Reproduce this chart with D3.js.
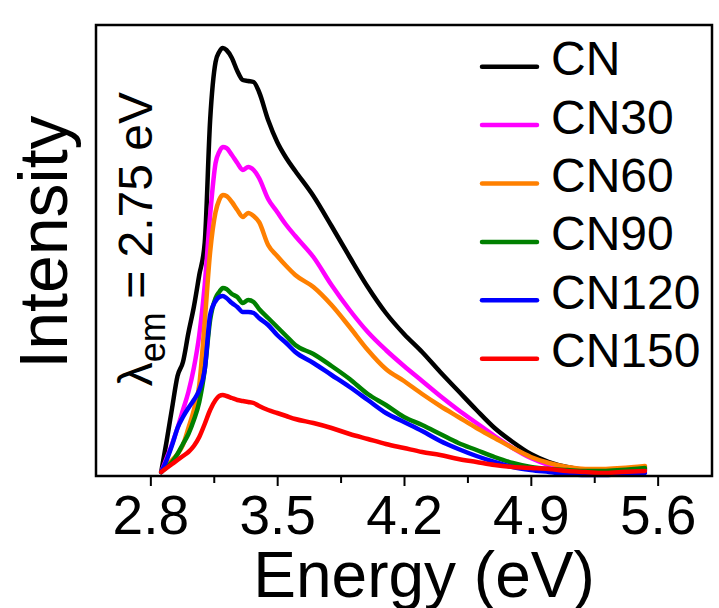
<!DOCTYPE html>
<html>
<head>
<meta charset="utf-8">
<script src="https://cdn.jsdelivr.net/npm/d3@7"></script>
<style>
  body { margin: 0; background: #fff; }
  svg text { font-family: Arial, "Liberation Sans", sans-serif; fill: #000; }
</style>
</head>
<body>
<svg id="chart" width="719" height="608"></svg>
<script>
// photon energy grid (eV)
var energy = [2.86, 2.89, 2.92, 2.95, 2.98, 3.01, 3.04, 3.07, 3.10, 3.13, 3.16, 3.18, 3.20, 3.22,
  3.25, 3.28, 3.31, 3.34, 3.37, 3.40, 3.45, 3.50, 3.55, 3.60, 3.70, 3.80, 3.90, 4.00, 4.10,
  4.20, 4.30, 4.40, 4.50, 4.60, 4.70, 4.80, 4.90, 5.00, 5.10, 5.20, 5.30, 5.40, 5.53];

// intensities (a.u.)
var cn = [4, 35, 68, 100, 114, 143, 169, 201, 233, 356, 414, 424, 428, 426,
  418, 405, 396, 395, 394, 384, 356, 334, 318, 305, 280, 250, 219, 189, 163,
  142, 124, 104, 85, 66, 48, 34, 22, 14, 9, 6, 5, 5, 6];
var cn30 = [4, 18, 32, 48, 66, 84, 108, 141, 191, 261, 313, 324, 329, 328,
  321, 313, 306, 309, 306, 298, 277, 264, 251, 240, 219, 191, 166, 144, 126,
  110, 95, 80, 66, 53, 40, 28, 18, 11, 7, 6, 5, 6, 7];
var cn60 = [4, 11, 16, 22, 31, 48, 66, 91, 154, 224, 264, 276, 281, 280,
  274, 266, 259, 263, 260, 254, 231, 220, 210, 201, 189, 171, 149, 126, 107,
  95, 82, 70, 59, 48, 38, 28, 19, 13, 9, 7, 7, 8, 10];
var cn90 = [4, 9, 14, 22, 32, 42, 56, 74, 106, 156, 178, 184, 188, 187,
  182, 179, 173, 176, 174, 167, 158, 149, 140, 131, 122, 110, 97, 82, 71,
  59, 51, 42, 33, 26, 19, 13, 9, 7, 6, 5, 5, 6, 8];
var cn120 = [4, 16, 31, 48, 59, 68, 76, 86, 106, 161, 175, 179, 180, 178,
  173, 169, 164, 164, 163, 158, 151, 141, 133, 124, 113, 101, 89, 76, 63,
  54, 45, 35, 27, 20, 14, 9, 6, 4, 2, 1, 1, 2, 3];
var cn150 = [4, 8, 12, 16, 20, 24, 30, 39, 52, 66, 76, 80, 81, 80,
  78, 76, 75, 74, 73, 70, 66, 63, 60, 57, 53, 48, 42, 37, 32,
  28, 24, 21, 17, 14, 11, 9, 8, 7, 5, 4, 3, 4, 5];

var seriesNames = ["CN", "CN30", "CN60", "CN90", "CN120", "CN150"];
var seriesValues = [cn, cn30, cn60, cn90, cn120, cn150];
var seriesColors = ["#000000", "#ff00ff", "#ff8000", "#008000", "#0000ff", "#ff0000"];

var majorTicks = [2.8, 3.5, 4.2, 4.9, 5.6];
var minorTicks = [3.15, 3.85, 4.55, 5.25];

var plotLeft = 96, plotRight = 712, plotTop = 25, plotBottom = 476;

var svg = d3.select("#chart");

var x = d3.scaleLinear().domain([2.5, 5.9]).range([plotLeft, plotRight]);
var y = d3.scaleLinear().domain([0, 451]).range([plotBottom, plotTop]);

// minor ticks
svg.append("g")
    .attr("transform", "translate(0," + plotBottom + ")")
    .call(d3.axisBottom(x).tickValues(minorTicks).tickSize(7).tickSizeOuter(0).tickFormat(""))
    .call(g => g.select(".domain").remove())
    .selectAll("line").attr("stroke-width", 2);

// major ticks
var xAxis = svg.append("g")
    .attr("transform", "translate(0," + plotBottom + ")")
    .call(d3.axisBottom(x).tickValues(majorTicks).tickSize(10).tickSizeOuter(0).tickPadding(9)
      .tickFormat(d3.format(".1f")));
xAxis.select(".domain").remove();
xAxis.selectAll("line").attr("stroke-width", 2);
xAxis.selectAll("text")
    .attr("font-size", 55)
    .attr("font-family", "Arial, 'Liberation Sans', sans-serif");

var line = d3.line()
    .x((d, i) => x(energy[i]))
    .y(d => y(d))
    .curve(d3.curveMonotoneX);

svg.append("g")
  .selectAll("path")
  .data(seriesValues)
  .join("path")
    .attr("d", line)
    .attr("fill", "none")
    .attr("stroke", (d, i) => seriesColors[i])
    .attr("stroke-width", 4.5)
    .attr("stroke-linejoin", "round")
    .attr("stroke-linecap", "round");

// frame
svg.append("rect")
    .attr("x", plotLeft).attr("y", plotTop)
    .attr("width", plotRight - plotLeft).attr("height", plotBottom - plotTop)
    .attr("fill", "none").attr("stroke", "#000").attr("stroke-width", 2.5);

// legend
var legend = svg.append("g")
  .selectAll("g")
  .data(seriesNames)
  .join("g")
    .attr("transform", (d, i) => "translate(0," + (66.7 + i * 58.4) + ")");
legend.append("line")
    .attr("x1", 482).attr("x2", 537)
    .attr("stroke", (d, i) => seriesColors[i])
    .attr("stroke-width", 4.5).attr("stroke-linecap", "round");
legend.append("text")
    .attr("x", 551).attr("y", 8.5)
    .attr("font-size", 48)
    .text(d => d);

// annotation
var note = svg.append("text")
    .attr("transform", "translate(152,92) rotate(-90)")
    .attr("text-anchor", "end")
    .attr("font-size", 48);
note.append("tspan").text("\u03bb");
note.append("tspan").attr("font-size", 36).attr("dy", 13).text("em");
note.append("tspan").attr("dy", -13).text(" = 2.75 eV");

// axis titles
svg.append("text")
    .attr("x", 424).attr("y", 597)
    .attr("text-anchor", "middle")
    .attr("font-size", 64)
    .text("Energy (eV)");

svg.append("text")
    .attr("transform", "translate(67,242) rotate(-90)")
    .attr("text-anchor", "middle")
    .attr("font-size", 68)
    .text("Intensity");
</script>
</body>
</html>
